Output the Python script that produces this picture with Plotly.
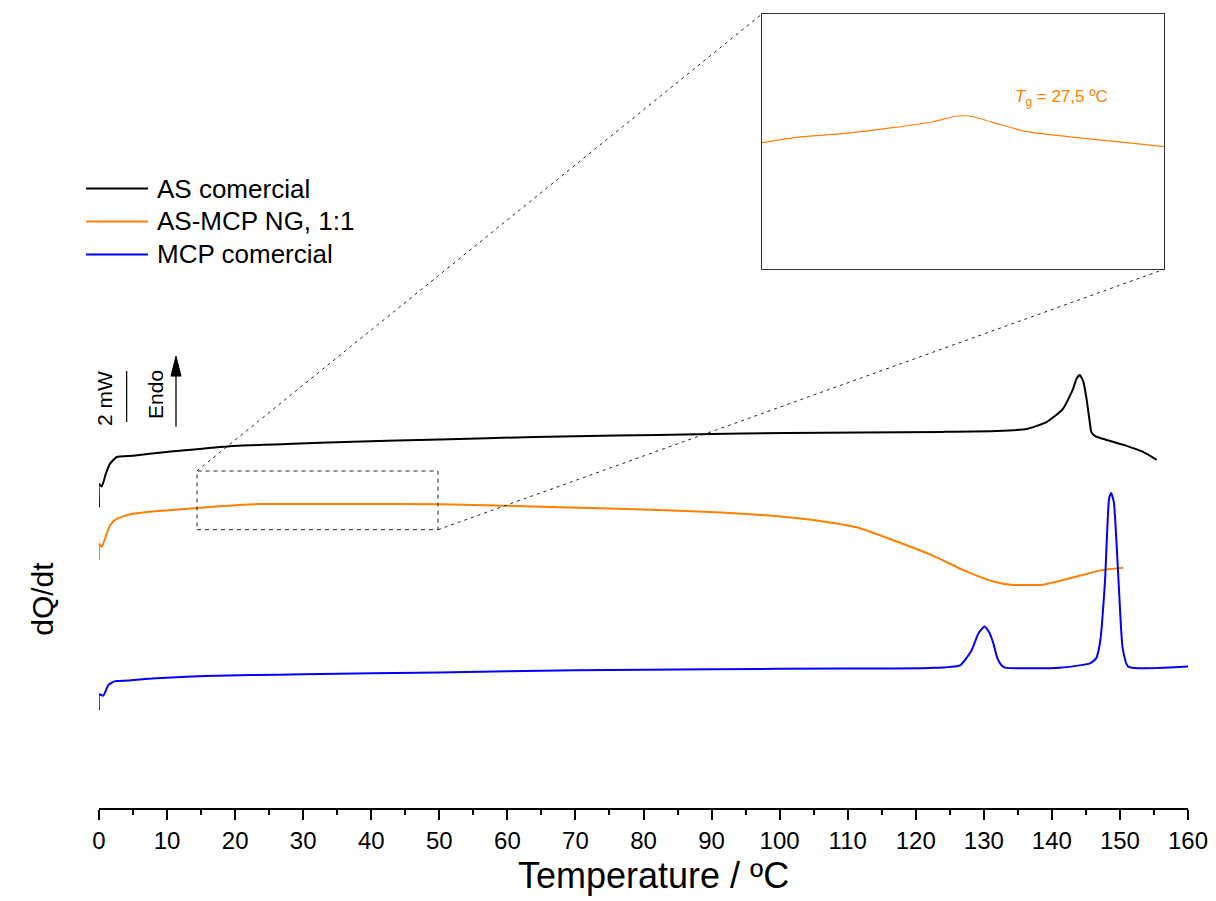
import plotly.graph_objects as go

# ---------------- data (temperature in ºC, heat flow in mW, curves offset) ----------------
as_temp = [0, 0.04, 0.4, 1.0, 1.6, 2.6, 5.0, 9.9, 11.9, 19.2, 27.6, 37.3, 50.1, 64, 76, 88,
           101, 112, 124, 131.9, 136.3, 139.2, 141.6, 143.1, 143.6, 144.1, 144.6, 145.1,
           145.5, 145.8, 146.3, 147.1, 151.0, 153.4, 155.4]
as_heat = [11.38, 12.26, 12.16, 12.64, 13.02, 13.28, 13.33, 13.47, 13.52, 13.69, 13.77, 13.86,
           13.94, 14.04, 14.09, 14.14, 14.19, 14.21, 14.23, 14.26, 14.34, 14.60, 15.09, 15.85,
           16.23, 16.38, 16.15, 15.47, 14.72, 14.23, 14.08, 14.00, 13.70, 13.47, 13.17]

ng_temp = [0, 0.04, 0.4, 1.6, 2.6, 5.0, 9.9, 14.4, 17.3, 23.7, 35, 50.1, 63.6, 77.7, 88.9,
           100.1, 105.7, 111.3, 116.9, 122.5, 127.5, 131.4, 133.9, 138.7, 143.1, 147.1, 150.5]
ng_heat = [9.37, 10.00, 9.88, 10.69, 10.94, 11.13, 11.26, 11.35, 11.41, 11.50, 11.50, 11.49,
           11.41, 11.31, 11.21, 11.03, 10.87, 10.62, 10.11, 9.55, 8.94, 8.57, 8.45, 8.45,
           8.72, 8.99, 9.09]

mcp_temp = [0, 0.04, 0.63, 1.37, 2.35, 4.3, 6.76, 9.95, 15.6, 22.4, 30, 50, 70, 90, 110, 122,
            126.5, 128.2, 129.2, 130.1, 130.8, 131.4, 132.0, 132.6, 133.1, 141.2, 145.6,
            146.5, 147.1, 147.8, 148.4, 148.7, 149.1, 149.8, 150.4, 151.2, 160]
mcp_heat = [3.71, 4.30, 4.25, 4.65, 4.80, 4.82, 4.88, 4.93, 4.99, 5.03, 5.06, 5.13, 5.21, 5.25,
            5.28, 5.30, 5.40, 5.96, 6.60, 6.87, 6.64, 6.23, 5.66, 5.40, 5.31, 5.31, 5.47,
            5.66, 6.30, 8.57, 11.70, 11.92, 11.58, 8.57, 6.04, 5.35, 5.35]

# zoomed detail of the AS-MCP NG curve (inset, magnified heat-flow scale)
inset_temp = [14.4, 18.0, 21.5, 25.9, 29.5, 31.2, 32.1, 33.0, 35.4, 37.7, 42.1, 46.5, 49.8]
inset_heat = [1.27, 1.33, 1.36, 1.42, 1.48, 1.53, 1.54, 1.53, 1.45, 1.38, 1.32, 1.27, 1.23]

series_names = ["AS comercial", "AS-MCP NG, 1:1", "MCP comercial"]
series_colors = ["#000000", "#FF8000", "#0000FF"]
x_ticks = [0, 10, 20, 30, 40, 50, 60, 70, 80, 90, 100, 110, 120, 130, 140, 150, 160]

FONT = "Liberation Sans, Arial, sans-serif"

fig = go.Figure()
for xs, ys, name, col in zip([as_temp, ng_temp, mcp_temp], [as_heat, ng_heat, mcp_heat],
                             series_names, series_colors):
    fig.add_trace(go.Scatter(x=xs, y=ys, mode="lines", name=name,
                             line=dict(color=col, width=2, shape="spline", smoothing=0.5),
                             showlegend=False, xaxis="x", yaxis="y"))

fig.add_trace(go.Scatter(x=inset_temp, y=inset_heat, mode="lines", name="AS-MCP NG, 1:1 (zoom)",
                         line=dict(color=series_colors[1], width=1.2, shape="spline",
                                   smoothing=0.4),
                         showlegend=False, xaxis="x2", yaxis="y2"))

shapes = []
annotations = []

# manual legend
legend_y = [0.7801, 0.7387, 0.6972]
for name, col, ly in zip(series_names, series_colors, legend_y):
    shapes.append(dict(type="line", xref="paper", yref="paper", x0=-0.0119, x1=0.045,
                       y0=ly, y1=ly, line=dict(color=col, width=2)))
    annotations.append(dict(xref="paper", yref="paper", x=0.0514, y=ly, text=name,
                            showarrow=False, xanchor="left", yanchor="middle",
                            font=dict(family=FONT, size=26, color="#000000")))

# scale bar (2 mW) and endo arrow
shapes.append(dict(type="line", xref="paper", yref="paper", x0=0.0254, x1=0.0254,
                   y0=0.4862, y1=0.5503, line=dict(color="#000000", width=1.2)))
annotations.append(dict(xref="paper", yref="paper", x=0.0046, y=0.5151, text="2 mW",
                        textangle=-90, showarrow=False, xanchor="center", yanchor="middle",
                        font=dict(family=FONT, size=21, color="#000000")))
annotations.append(dict(xref="paper", yref="paper", x=0.0514, y=0.5214, text="Endo",
                        textangle=-90, showarrow=False, xanchor="center", yanchor="middle",
                        font=dict(family=FONT, size=21, color="#000000")))
shapes.append(dict(type="line", xref="paper", yref="paper", x0=0.0707, x1=0.0707,
                   y0=0.4803, y1=0.5460, line=dict(color="#000000", width=1.3)))
shapes.append(dict(type="path", xref="paper", yref="paper",
                   path="M 0.0707 0.5691 L 0.0661 0.5440 L 0.0753 0.5440 Z",
                   fillcolor="#000000", line=dict(color="#000000", width=1)))

# axis labels
annotations.append(dict(xref="paper", yref="paper", x=-0.052, y=0.264, text="dQ/dt",
                        textangle=-90, showarrow=False, xanchor="center", yanchor="middle",
                        font=dict(family=FONT, size=30, color="#000000")))
annotations.append(dict(xref="paper", yref="paper", x=0.5096, y=-0.1130,
                        text="Temperature / ºC", showarrow=False, xanchor="center",
                        yanchor="bottom", font=dict(family=FONT, size=36, color="#000000")))

# zoom box and connectors
shapes.append(dict(type="rect", xref="x", yref="y", x0=14.4, x1=49.8, y0=10.53, y1=12.75,
                   line=dict(color="#222222", width=1, dash="4px,4px")))
shapes.append(dict(type="line", xref="paper", yref="paper", x0=0.0900, y0=0.4246,
                   x1=0.6088, y1=1.0, line=dict(color="#222222", width=1, dash="3px,4px")))
shapes.append(dict(type="line", xref="paper", yref="paper", x0=0.3113, y0=0.3505,
                   x1=0.9780, y1=0.6784, line=dict(color="#222222", width=1, dash="3px,4px")))

# Tg label in inset
annotations.append(dict(xref="x2", yref="y2", x=36.5, y=1.72,
                        text="<i>T</i><sub>g</sub> = 27,5 ºC", showarrow=False,
                        xanchor="left", yanchor="middle",
                        font=dict(family=FONT, size=17, color=series_colors[1])))

fig.update_layout(
    width=1216, height=901,
    margin=dict(l=99, r=28, t=14, b=93),
    paper_bgcolor="white", plot_bgcolor="white",
    showlegend=False,
    font=dict(family=FONT, color="#000000"),
    xaxis=dict(domain=[0, 1], range=[0, 160], showline=True, linecolor="#000000",
               linewidth=1.5, ticks="outside", ticklen=10, tickwidth=1.5, tickcolor="#000000",
               tickvals=x_ticks, ticktext=[str(t) for t in x_ticks],
               tickfont=dict(family=FONT, size=24, color="#000000"),
               minor=dict(ticks="outside", dtick=5, ticklen=5, tickwidth=1.5,
                          tickcolor="#000000"),
               showgrid=False, zeroline=False, automargin=False),
    yaxis=dict(domain=[0, 1], range=[0, 30.04], visible=False, showgrid=False,
               zeroline=False),
    xaxis2=dict(domain=[0.6088, 0.978], range=[14.4, 49.8], anchor="y2", showline=True,
                mirror=True, linecolor="#333333", linewidth=1, showticklabels=False,
                ticks="", showgrid=False, zeroline=False),
    yaxis2=dict(domain=[0.6784, 1.0], range=[0, 2.56], anchor="x2", showline=True,
                mirror=True, linecolor="#333333", linewidth=1, showticklabels=False,
                ticks="", showgrid=False, zeroline=False),
    shapes=shapes,
    annotations=annotations,
)

fig.write_html("out.html")
